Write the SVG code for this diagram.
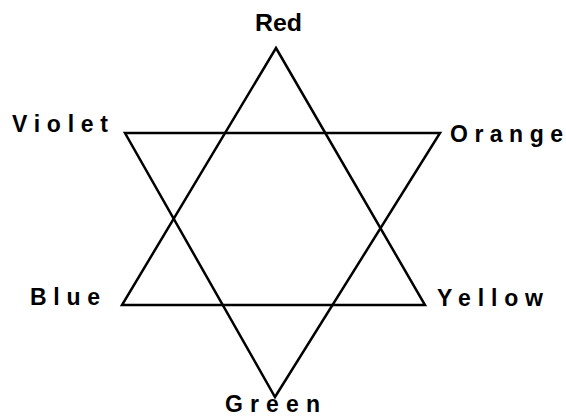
<svg xmlns="http://www.w3.org/2000/svg" width="566" height="416" viewBox="0 0 566 416">
<style>
.lbl{font-family:"Liberation Sans",Arial,sans-serif;font-size:23px;font-weight:bold;fill:#000}
.edge{stroke:#000;stroke-width:2.5;fill:none;stroke-linejoin:miter}
</style>
<rect width="566" height="416" fill="#fff"/>
<g id="connectors">
<polygon class="edge" points="276,48 425,305 122,305"/>
<polygon class="edge" points="125,133 440,133 275,397"/>
</g>
<g id="red"><text class="lbl" x="255" y="31" textLength="47" lengthAdjust="spacingAndGlyphs">Red</text></g>
<g id="violet"><text class="lbl" x="12" y="132" textLength="96" lengthAdjust="spacing">Violet</text></g>
<g id="orange"><text class="lbl" x="450" y="142" textLength="113" lengthAdjust="spacing">Orange</text></g>
<g id="blue"><text class="lbl" x="30" y="305" textLength="70" lengthAdjust="spacing">Blue</text></g>
<g id="yellow"><text class="lbl" x="437" y="306" textLength="106" lengthAdjust="spacing">Yellow</text></g>
<g id="green"><text class="lbl" x="225" y="412" textLength="95" lengthAdjust="spacing">Green</text></g>
</svg>
